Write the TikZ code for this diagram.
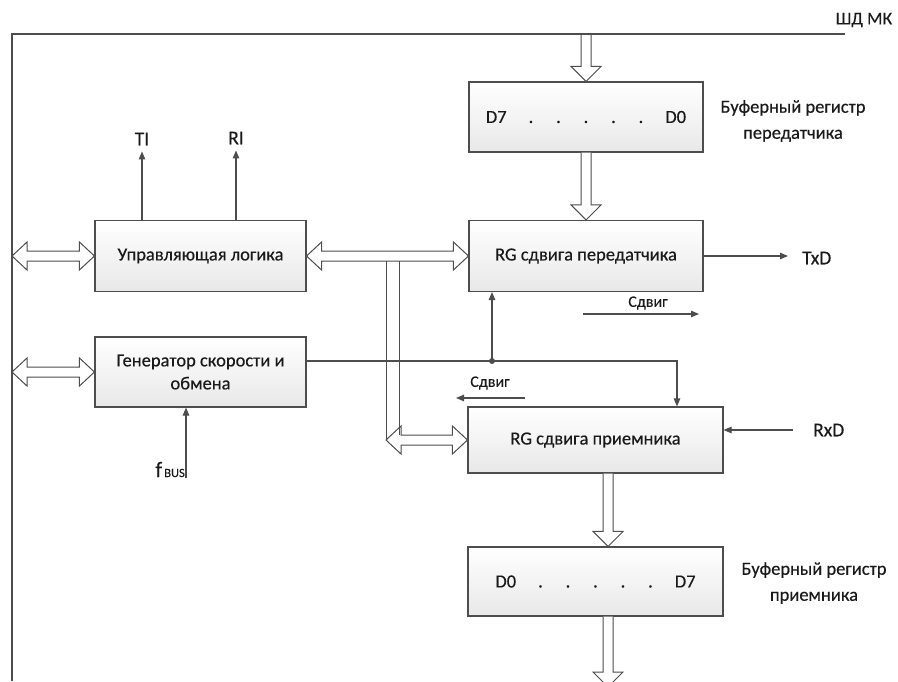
\documentclass[tikz,border=0pt]{standalone}
\usepackage{fontspec}
\setmainfont[FakeBold=0.35]{Carlito}
\usetikzlibrary{arrows.meta,calc}

\definecolor{ink}{HTML}{4D4D4D}
\definecolor{txt}{HTML}{1A1A1A}

\tikzset{
  block/.style={draw=ink, line width=1.1pt, top color=white, bottom color=black!9,
    text=txt, font=\fontsize{18.5}{23}\selectfont, align=center, inner sep=0pt},
  wire/.style={draw=ink, line width=1.1pt, -{Triangle[length=8pt,width=6.5pt]}},
  plain/.style={draw=ink, line width=1.1pt},
  busline/.style={draw=ink, line width=1pt, fill=white, line join=miter},
  lbl/.style={text=txt, font=\fontsize{19.5}{22}\selectfont, inner sep=1pt},
  small/.style={text=txt, font=\fontsize{16}{19}\selectfont, inner sep=1pt},
  reglbl/.style={text=txt, font=\fontsize{18.5}{26}\selectfont, align=center, inner sep=0pt},
}

% register contents: first bit, five dots, last bit
\newcommand\regbits[2]{\makebox[42pt]{#1}\makebox[27.5pt]{.}\makebox[27.5pt]{.}%
  \makebox[27.5pt]{.}\makebox[27.5pt]{.}\makebox[27.5pt]{.}\makebox[42pt]{#2}}

% hollow double-headed horizontal bus between two tips (same height)
\newcommand\busDouble[2]{%
  \path[busline] let \p1=(#1), \p2=(#2) in
    (\x1,\y1) -- (\x1+15pt,\y1+14pt) -- (\x1+15pt,\y1+5pt) -- (\x2-15pt,\y1+5pt)
    -- (\x2-15pt,\y1+14pt) -- (\x2,\y1) -- (\x2-15pt,\y1-14pt) -- (\x2-15pt,\y1-5pt)
    -- (\x1+15pt,\y1-5pt) -- (\x1+15pt,\y1-14pt) -- cycle;}

% hollow downward bus arrow from a start point to a tip
\newcommand\busDown[2]{%
  \path[busline] let \p1=(#1), \p2=(#2) in
    (\x1-5pt,\y1) -- (\x1-5pt,\y2+15pt) -- (\x1-15pt,\y2+15pt) -- (\x1,\y2)
    -- (\x1+15pt,\y2+15pt) -- (\x1+5pt,\y2+15pt) -- (\x1+5pt,\y1);}

\begin{document}
\begin{tikzpicture}[x=1pt, y=-1pt]
\useasboundingbox (0,0) rectangle (898,681);
\clip (0,0) rectangle (898,681);

% data bus of the microcontroller
\coordinate (busTL) at (12,34);
\coordinate (busTR) at (845,34);
\coordinate (busB) at (12,681);
\node[small, font=\fontsize{18}{20}\selectfont] (shd) at (864,20) {ШД МК};

% blocks
\node[block, minimum width=234pt, minimum height=70pt] (txbuf) at (586,117) {\regbits{D7}{D0}};
\node[block, minimum width=234pt, minimum height=71pt] (txrg) at (586,256) {RG сдвига передатчика};
\node[block, minimum width=211pt, minimum height=71pt] (ctrl) at (200.5,256) {Управляющая логика};
\node[block, minimum width=211pt, minimum height=70pt] (gen) at (200.5,372) {Генератор скорости и\\обмена};
\node[block, minimum width=255pt, minimum height=66pt] (rxrg) at (595.5,440) {RG сдвига приемника};
\node[block, minimum width=255pt, minimum height=69pt] (rxbuf) at (595.5,581.5) {\regbits{D0}{D7}};

\node[reglbl] (txbufL) at (793,121) {Буферный регистр\\передатчика};
\node[reglbl] (rxbufL) at (814,583) {Буферный регистр\\приемника};

% hollow bus arrows along the data path
\coordinate (colTx) at (586,0);
\coordinate (colRx) at (608,0);
\busDown{colTx |- busTL}{txbuf.north}
\busDown{txbuf.south}{txrg.north}
\busDown{colRx |- rxrg.south}{colRx |- rxbuf.north}
\coordinate (busEnd) at (608,687);
\busDown{colRx |- rxbuf.south}{busEnd}

\draw[plain] (busB) -- (busTL) -- (busTR);

\busDouble{busTL |- ctrl.west}{ctrl.west}
\busDouble{busTL |- gen.west}{gen.west}
\busDouble{ctrl.east}{txrg.west}

% branch of the internal bus down to the receiver shift register
\coordinate (brL) at (386,0);
\coordinate (brR) at (399,0);
\busDouble{brL |- rxrg.west}{rxrg.west}
\draw[ink, line width=1pt] ($(brL |- ctrl.east)+(0,5)$) -- (brL |- rxrg.west);
\draw[ink, line width=1pt] ($(brR |- ctrl.east)+(0,5)$) -- ($(brR |- rxrg.west)+(0,-5)$);

% interrupt flags
\node[lbl] (TI) at (142,139) {TI};
\node[lbl] (RI) at (236,138) {RI};
\draw[wire, shorten >=5pt] (ctrl.north -| TI) -- (TI.south);
\draw[wire, shorten >=5pt] (ctrl.north -| RI) -- (RI.south);

% serial lines
\node[lbl, anchor=west] (TxD) at (801,258) {TxD};
\draw[wire, shorten >=13pt] (txrg.east) -- (txrg.east -| TxD.west);
\node[lbl, anchor=west] (RxD) at (812,430) {RxD};
\draw[wire, shorten <=19pt] (RxD.west) -- (RxD.west -| rxrg.east);

% bus clock input
\node[text=txt, anchor=base east, inner sep=1pt, font=\fontsize{22}{22}\selectfont] (fbus) at (186,477)
  {f\fontsize{12.5}{12}\selectfont\,BUS};
\draw[wire] (fbus.south east) -- (fbus.south east |- gen.south);

% shift clock from the baud generator
\coordinate (g1) at ($(gen.east)+(0,-11)$);
\coordinate (rxin) at (677,0);
\coordinate (txup) at (492,0);
\draw[wire] (g1) -| (rxin |- rxrg.north);
\draw[wire] (g1 -| txup) -- (txup |- txrg.south);
\fill[ink] (g1 -| txup) circle (3);

% shift direction marks
\coordinate (s1a) at (583,314);
\coordinate (s1b) at (699,314);
\node[small] (s1) at (648,303) {Сдвиг};
\draw[wire] (s1a) -- (s1b);
\coordinate (s2a) at (525,398);
\coordinate (s2b) at (456,398);
\node[small] (s2) at (490,383) {Сдвиг};
\draw[wire] (s2a) -- (s2b);
\end{tikzpicture}
\end{document}
